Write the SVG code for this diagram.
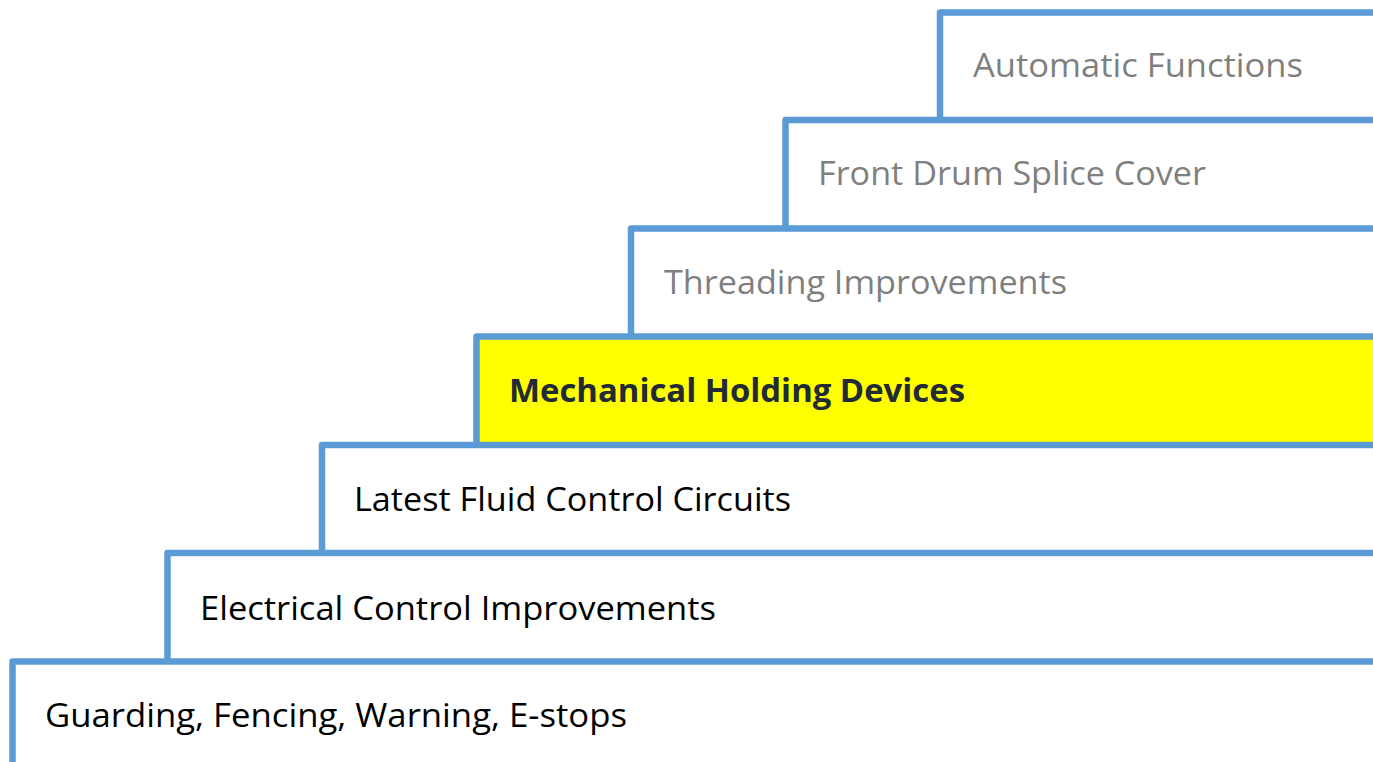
<svg xmlns="http://www.w3.org/2000/svg" width="1373" height="762" viewBox="0 0 1373 762">
<style>
.step{fill:none;stroke:#5B9BD5;stroke-width:6.5;stroke-linejoin:round}
.t{font-family:"Open Sans","Liberation Sans",sans-serif;font-size:32px}
.g{fill:#7F7F7F}
.k{fill:#000}
.b{fill:#222A35;font-weight:bold}
</style>
<rect width="1373" height="762" fill="#fff"/>
<g id="node-mech-fill"><rect x="476.5" y="336.5" width="900" height="108.5" fill="#FFFF00"/></g>
<g id="connectors">
<path class="step" d="M940,120 V12.5 H1380"/>
<path class="step" d="M785.5,228.5 V120 H1380"/>
<path class="step" d="M631,336.5 V228.5 H1380"/>
<path class="step" d="M476.5,445 V336.5 H1380"/>
<path class="step" d="M322,553 V445 H1380"/>
<path class="step" d="M167.5,661.5 V553 H1380"/>
<path class="step" d="M12.5,770 V661.5 H1380"/>
</g>
<g id="node-automatic"><text class="t g" x="973" y="77" textLength="330" lengthAdjust="spacingAndGlyphs">Automatic Functions</text></g>
<g id="node-frontdrum"><text class="t g" x="818" y="185" textLength="388" lengthAdjust="spacingAndGlyphs">Front Drum Splice Cover</text></g>
<g id="node-threading"><text class="t g" x="664" y="294" textLength="403" lengthAdjust="spacingAndGlyphs">Threading Improvements</text></g>
<g id="node-mechanical"><text class="t b" x="509" y="402" textLength="456" lengthAdjust="spacingAndGlyphs">Mechanical Holding Devices</text></g>
<g id="node-fluid"><text class="t k" x="354" y="511" textLength="437" lengthAdjust="spacingAndGlyphs">Latest Fluid Control Circuits</text></g>
<g id="node-electrical"><text class="t k" x="200" y="620" textLength="516" lengthAdjust="spacingAndGlyphs">Electrical Control Improvements</text></g>
<g id="node-guarding"><text class="t k" x="45" y="727" textLength="582" lengthAdjust="spacingAndGlyphs">Guarding, Fencing, Warning, E-stops</text></g>
</svg>
